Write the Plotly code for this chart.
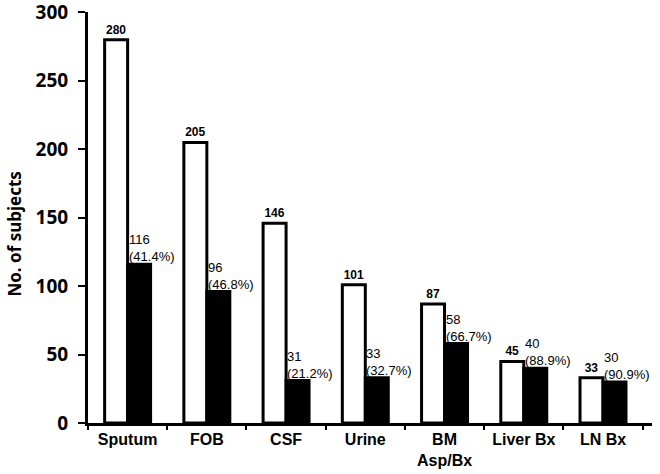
import plotly.graph_objects as go

categories = ["Sputum", "FOB", "CSF", "Urine", "BM<br>Asp/Bx", "Liver Bx", "LN Bx"]
total = [280, 205, 146, 101, 87, 45, 33]
positive = [116, 96, 31, 33, 58, 40, 30]
pct_labels = ["41.4%", "46.8%", "21.2%", "32.7%", "66.7%", "88.9%", "90.9%"]
y_ticks = [0, 50, 100, 150, 200, 250, 300]

fig = go.Figure()
fig.add_trace(go.Bar(
    x=categories, y=total, marker=dict(color="white", line=dict(color="black", width=3)),
    text=[f"<b>{v}</b>" for v in total], textposition="outside",
    textfont=dict(family="Arial", size=12, color="black"), cliponaxis=False,
))
fig.add_trace(go.Bar(
    x=categories, y=positive, marker=dict(color="black", line=dict(color="black", width=3)),
))

for c, v, p in zip(categories, positive, pct_labels):
    fig.add_annotation(
        x=c, y=v, text=f"{v}<br>({p})", showarrow=False,
        xanchor="left", yanchor="bottom", xshift=-1, yshift=-2, align="left",
        font=dict(family="Arial", size=13, color="#000000"),
    )

fig.add_annotation(
    xref="paper", yref="paper", x=-0.13, y=0.46, text="<b>No. of subjects</b>",
    textangle=-90, showarrow=False, xanchor="center", yanchor="middle",
    font=dict(family="Noto Sans", size=17, color="black"),
)

fig.update_layout(
    width=660, height=474,
    margin=dict(l=88, r=8, t=12, b=51),
    barmode="group", bargap=0.42, bargroupgap=0,
    showlegend=False,
    plot_bgcolor="white", paper_bgcolor="white",
    font=dict(family="Arial", color="black"),
)
fig.update_xaxes(
    showline=True, linecolor="black", linewidth=3,
    ticks="outside", tickson="boundaries", ticklen=4, tickwidth=2, tickcolor="black",
    tickfont=dict(family="Arial", size=16, color="black"),
    showgrid=False, automargin=False,
    ticktext=[f"<b>{c}</b>" for c in categories], tickvals=categories,
)
fig.update_yaxes(
    range=[0, 300.3], tickvals=y_ticks, ticktext=[f"<b>{t}</b>" for t in y_ticks],
    showline=True, linecolor="black", linewidth=3,
    ticks="outside", ticklen=7, tickwidth=2, tickcolor="black",
    tickfont=dict(family="Noto Sans", size=19, color="black"),
    ticklabeloverflow="allow", ticklabelstandoff=6,
    showgrid=False, zeroline=False, automargin=False,
)

fig.write_html("out.html", config={"displayModeBar": False},
               post_script="document.body.style.margin='0';")
